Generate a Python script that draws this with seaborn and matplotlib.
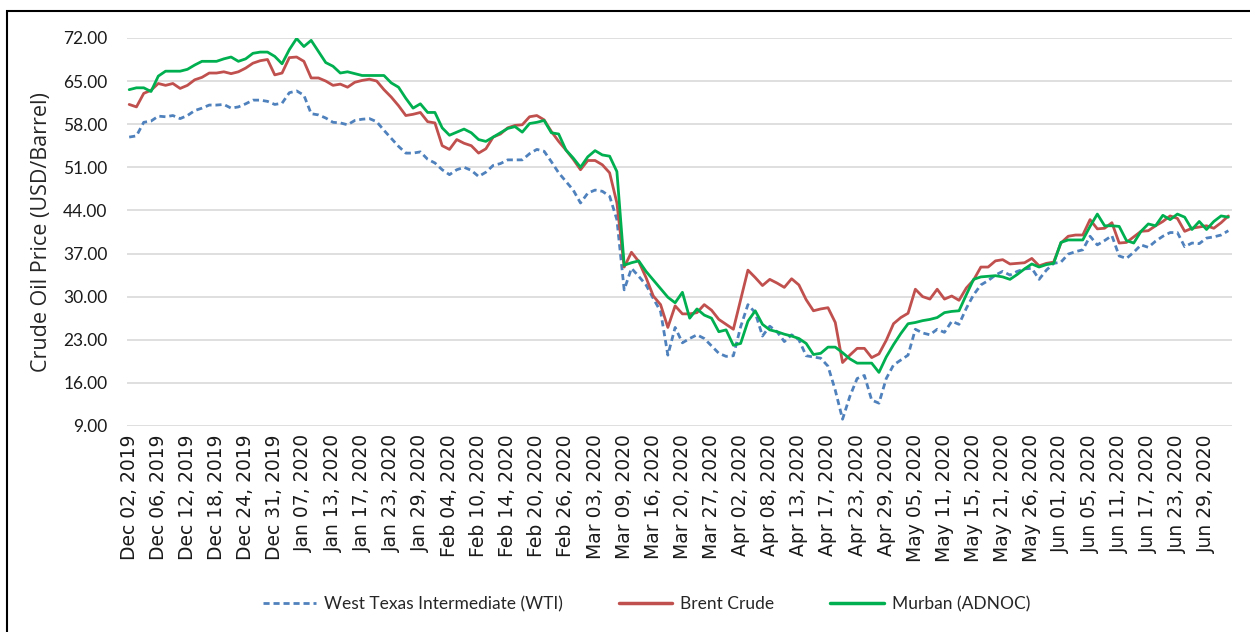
import numpy as np
import pandas as pd
import seaborn as sns
import matplotlib.pyplot as plt
from matplotlib.lines import Line2D
from matplotlib.patches import Rectangle

# daily crude prices (USD/barrel), Dec 02 2019 - early Jul 2020
wti = [55.9, 56.1, 58.3, 58.5, 59.3, 59.2, 59.4, 58.9, 59.4, 60.2,
       60.6, 61.1, 61.1, 61.2, 60.6, 60.8, 61.3, 61.9, 61.9, 61.7,
       61.2, 61.4, 63.1, 63.4, 62.7, 59.7, 59.5, 59.0, 58.3, 58.2,
       57.9, 58.6, 58.8, 58.9, 58.4, 57.0, 55.7, 54.4, 53.3, 53.3,
       53.5, 52.3, 51.7, 50.6, 49.8, 50.6, 51.0, 50.5, 49.5, 50.2,
       51.3, 51.6, 52.2, 52.2, 52.2, 53.2, 53.9, 53.6, 51.9, 50.1,
       48.7, 47.3, 45.2, 46.8, 47.3, 47.1, 46.3, 42.5, 31.1, 34.6,
       33.3, 31.9, 29.7, 27.6, 20.5, 25.0, 22.5, 23.2, 23.8, 23.2,
       22.0, 20.8, 20.3, 20.4, 25.1, 28.7, 27.4, 23.6, 25.2, 24.3,
       22.7, 23.8, 23.0, 20.4, 20.2, 20.0, 18.7, 14.8, 10.1, 13.8,
       16.7, 17.2, 13.2, 12.7, 16.7, 18.9, 19.7, 20.5, 24.7, 24.1,
       23.8, 24.7, 24.2, 26.0, 25.5, 28.1, 30.3, 31.9, 32.6, 33.5,
       34.1, 33.5, 34.1, 34.5, 34.6, 32.8, 34.3, 35.4, 35.6, 36.9,
       37.3, 37.6, 39.8, 38.4, 39.1, 39.9, 36.6, 36.2, 37.2, 38.4,
       38.0, 39.0, 39.8, 40.4, 40.4, 38.1, 38.7, 38.6, 39.5, 39.7,
       40.0, 40.7]

brent = [61.2, 60.8, 63.0, 63.5, 64.6, 64.3, 64.6, 63.8, 64.3, 65.2,
         65.6, 66.3, 66.3, 66.5, 66.2, 66.5, 67.1, 67.9, 68.3, 68.5,
         66.0, 66.3, 68.8, 68.9, 68.2, 65.5, 65.5, 65.0, 64.3, 64.5,
         64.0, 64.8, 65.1, 65.3, 65.0, 63.6, 62.4, 61.0, 59.4, 59.6,
         59.9, 58.4, 58.2, 54.5, 53.9, 55.5, 54.9, 54.5, 53.3, 54.0,
         55.9, 56.4, 57.4, 57.8, 57.9, 59.2, 59.4, 58.7, 56.8, 55.2,
         53.8, 52.3, 50.6, 52.1, 52.1, 51.4, 50.1, 45.2, 34.8, 37.2,
         35.7, 33.1, 30.1, 28.7, 25.0, 28.5, 27.2, 27.2, 27.4, 28.7,
         27.8, 26.3, 25.5, 24.7, 29.5, 34.3, 33.1, 31.8, 32.8, 32.2,
         31.5, 32.9, 31.9, 29.5, 27.7, 28.0, 28.2, 25.8, 19.3, 20.5,
         21.6, 21.6, 20.1, 20.7, 22.9, 25.6, 26.6, 27.3, 31.2, 30.0,
         29.6, 31.2, 29.6, 30.1, 29.4, 31.4, 32.7, 34.8, 34.8, 35.8,
         36.0, 35.3, 35.4, 35.5, 36.2, 35.0, 35.4, 35.6, 38.7, 39.8,
         40.0, 40.0, 42.5, 41.0, 41.1, 42.0, 38.7, 38.8, 39.7, 40.6,
         40.7, 41.5, 42.2, 43.1, 42.7, 40.6, 41.1, 41.3, 41.5, 41.1,
         42.0, 43.1]

murban = [63.6, 63.9, 63.9, 63.3, 65.8, 66.6, 66.6, 66.6, 66.9, 67.6,
          68.2, 68.2, 68.2, 68.6, 68.9, 68.2, 68.6, 69.5, 69.7, 69.7,
          69.0, 67.8, 70.1, 71.9, 70.6, 71.6, 69.8, 68.0, 67.4, 66.3,
          66.5, 66.2, 65.9, 65.9, 65.9, 65.9, 64.7, 64.0, 62.2, 60.6,
          61.3, 59.9, 59.9, 57.4, 56.2, 56.7, 57.2, 56.6, 55.5, 55.2,
          55.9, 56.6, 57.3, 57.6, 56.7, 58.1, 58.3, 58.6, 56.6, 56.4,
          53.8, 52.5, 51.0, 52.7, 53.7, 53.0, 52.8, 50.3, 35.1, 35.5,
          35.8, 34.1, 32.7, 31.3, 29.9, 29.0, 30.7, 26.5, 28.0, 27.0,
          26.5, 24.3, 24.6, 22.1, 22.4, 26.0, 27.7, 25.5, 24.6, 24.3,
          23.9, 23.6, 23.2, 22.4, 20.6, 20.8, 21.8, 21.8, 20.9, 19.9,
          19.2, 19.2, 19.2, 17.7, 20.2, 22.2, 24.0, 25.6, 25.8, 26.1,
          26.3, 26.6, 27.4, 27.6, 27.7, 30.3, 32.8, 33.2, 33.3, 33.4,
          33.2, 32.8, 33.6, 34.5, 35.3, 34.8, 35.2, 35.4, 38.8, 39.2,
          39.2, 39.2, 41.4, 43.4, 41.5, 41.5, 41.4, 39.1, 38.7, 40.6,
          41.8, 41.5, 43.2, 42.5, 43.4, 42.9, 40.9, 42.2, 40.9, 42.2,
          43.1, 42.9]

# every 4th trading day gets a label
tick_labels = ['Dec 02, 2019', 'Dec 06, 2019', 'Dec 12, 2019', 'Dec 18, 2019',
               'Dec 24, 2019', 'Dec 31, 2019', 'Jan 07, 2020', 'Jan 13, 2020',
               'Jan 17, 2020', 'Jan 23, 2020', 'Jan 29, 2020', 'Feb 04, 2020',
               'Feb 10, 2020', 'Feb 14, 2020', 'Feb 20, 2020', 'Feb 26, 2020',
               'Mar 03, 2020', 'Mar 09, 2020', 'Mar 16, 2020', 'Mar 20, 2020',
               'Mar 27, 2020', 'Apr 02, 2020', 'Apr 08, 2020', 'Apr 13, 2020',
               'Apr 17, 2020', 'Apr 23, 2020', 'Apr 29, 2020', 'May 05, 2020',
               'May 11, 2020', 'May 15, 2020', 'May 21, 2020', 'May 26, 2020',
               'Jun 01, 2020', 'Jun 05, 2020', 'Jun 11, 2020', 'Jun 17, 2020',
               'Jun 23, 2020', 'Jun 29, 2020']
y_ticks = [9, 16, 23, 30, 37, 44, 51, 58, 65, 72]

series_names = ['West Texas Intermediate (WTI)', 'Brent Crude', 'Murban (ADNOC)']
colors = ['#4F81BD', '#C0504D', '#00B050']
wti_dash = (0, (2.2, 1.4))

idx = np.arange(len(wti))
df = pd.DataFrame({'day': np.tile(idx, 3),
                   'price': wti + brent + murban,
                   'crude': np.repeat(series_names, len(idx))})

sns.set_style('white')

fig = plt.figure(figsize=(12.5, 6.32), dpi=100)
ax = fig.add_axes([0.1016, 0.326, 0.8840, 0.614])

for name, col in zip(series_names, colors):
    sub = df[df['crude'] == name]
    ls = wti_dash if name.startswith('West') else '-'
    sns.lineplot(data=sub, x='day', y='price', ax=ax, color=col,
                 linewidth=2.0, linestyle=ls, legend=False)

ax.set_xlim(-0.3, 151.5)
ax.set_ylim(9, 72)
ax.set_yticks(y_ticks)
ax.set_yticklabels([f'{v:.2f}' for v in y_ticks], fontsize=12.5, family='Lato', color='#1a1a1a')
ax.set_xticks(idx[::4][:len(tick_labels)])
ax.set_xticklabels(tick_labels, rotation=90, fontsize=13.5, family='DejaVu Sans', color='#1a1a1a')
ax.tick_params(axis='both', length=0)
ax.tick_params(axis='x', pad=6)
ax.tick_params(axis='y', pad=14)

ax.grid(axis='y', color='#D9D9D9', linewidth=1.2)
ax.grid(axis='x', visible=False)
sns.despine(ax=ax, left=True, bottom=True)

ax.set_xlabel('')
ax.set_ylabel('Crude Oil Price (USD/Barrel)', fontsize=15.5, family='Open Sans', labelpad=8)

handles = [Line2D([], [], color=colors[0], lw=2.0, ls=wti_dash),
           Line2D([], [], color=colors[1], lw=2.5),
           Line2D([], [], color=colors[2], lw=2.5)]
fig.legend(handles, series_names, loc='center', bbox_to_anchor=(0.517, 1 - 604 / 632),
           ncol=3, frameon=False, handlelength=3.1, columnspacing=3.2, handletextpad=0.45,
           prop={'family': 'Lato', 'size': 12.5})

# frame around the chart (only top and left edges are inside the picture)
fig.patches.append(Rectangle((7 / 1250, -0.2), 1.2, 1.2 - 11 / 632,
                             transform=fig.transFigure, fill=False,
                             edgecolor='black', linewidth=1.5))

fig.savefig('out.png', dpi=100)
